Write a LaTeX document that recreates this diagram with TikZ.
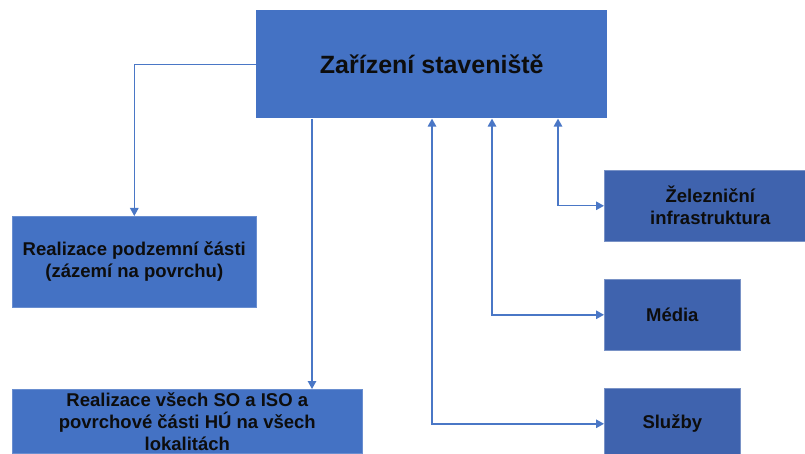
\documentclass[tikz,border=0pt]{standalone}
\usepackage{fontspec}
\setmainfont{Liberation Sans}
\usetikzlibrary{arrows.meta}
\definecolor{boxblue}{HTML}{4472C4}
\definecolor{boxdark}{HTML}{3F63AE}
\definecolor{linkblue}{HTML}{4A77C6}
\definecolor{ink}{HTML}{0D0D0D}
\tikzset{
  box/.style={draw=boxblue!80!white, line width=0.6pt, fill=boxblue, anchor=north west,
    inner sep=0pt, align=center, text=ink, font=\fontsize{18.5}{22}\selectfont\bfseries},
  sidebox/.style={box, fill=boxdark, draw=boxdark!70!white},
  link/.style={draw=linkblue, line width=1.4pt, -{Triangle[length=8pt,width=8.5pt]}},
  link2/.style={link, {Triangle[length=8pt,width=8.5pt]}-{Triangle[length=8pt,width=8.5pt]}}
}
\begin{document}
\begin{tikzpicture}[x=1pt, y=-1pt]
  \useasboundingbox (0,0) rectangle (805,454);

  % central box
  \node[box, minimum width=351pt, minimum height=108pt, draw=none,
        font=\fontsize{25}{30}\selectfont\bfseries] (main) at (256,10) {Zařízení staveniště};

  % left column
  \node[box, minimum width=244pt, minimum height=91pt] (podz) at (12,216)
    {Realizace podzemní části\\(zázemí na povrchu)};
  \node[box, minimum width=350pt, minimum height=64pt] (so) at (12,389)
    {Realizace všech SO a ISO a\\povrchové části HÚ na všech\\lokalitách};

  % right column
  \node[sidebox, minimum width=212pt, minimum height=71pt] (zel) at (604,170)
    {Železniční\\infrastruktura};
  \node[sidebox, minimum width=136pt, minimum height=71pt] (med) at (604,279)
    {Média};
  \node[sidebox, minimum width=136pt, minimum height=71pt] (slu) at (604,388)
    {Služby};

  % connectors
  \draw[link] (main.west) -| (podz.north);
  \draw[link] ([xshift=56pt]main.south west) -- ([xshift=56pt]main.south west |- so.north);
  \draw[link2] ([xshift=302pt]main.south west) |- (zel.west);
  \draw[link2] ([xshift=236pt]main.south west) |- (med.west);
  \draw[link2] ([xshift=176pt]main.south west) |- (slu.west);
\end{tikzpicture}
\end{document}
